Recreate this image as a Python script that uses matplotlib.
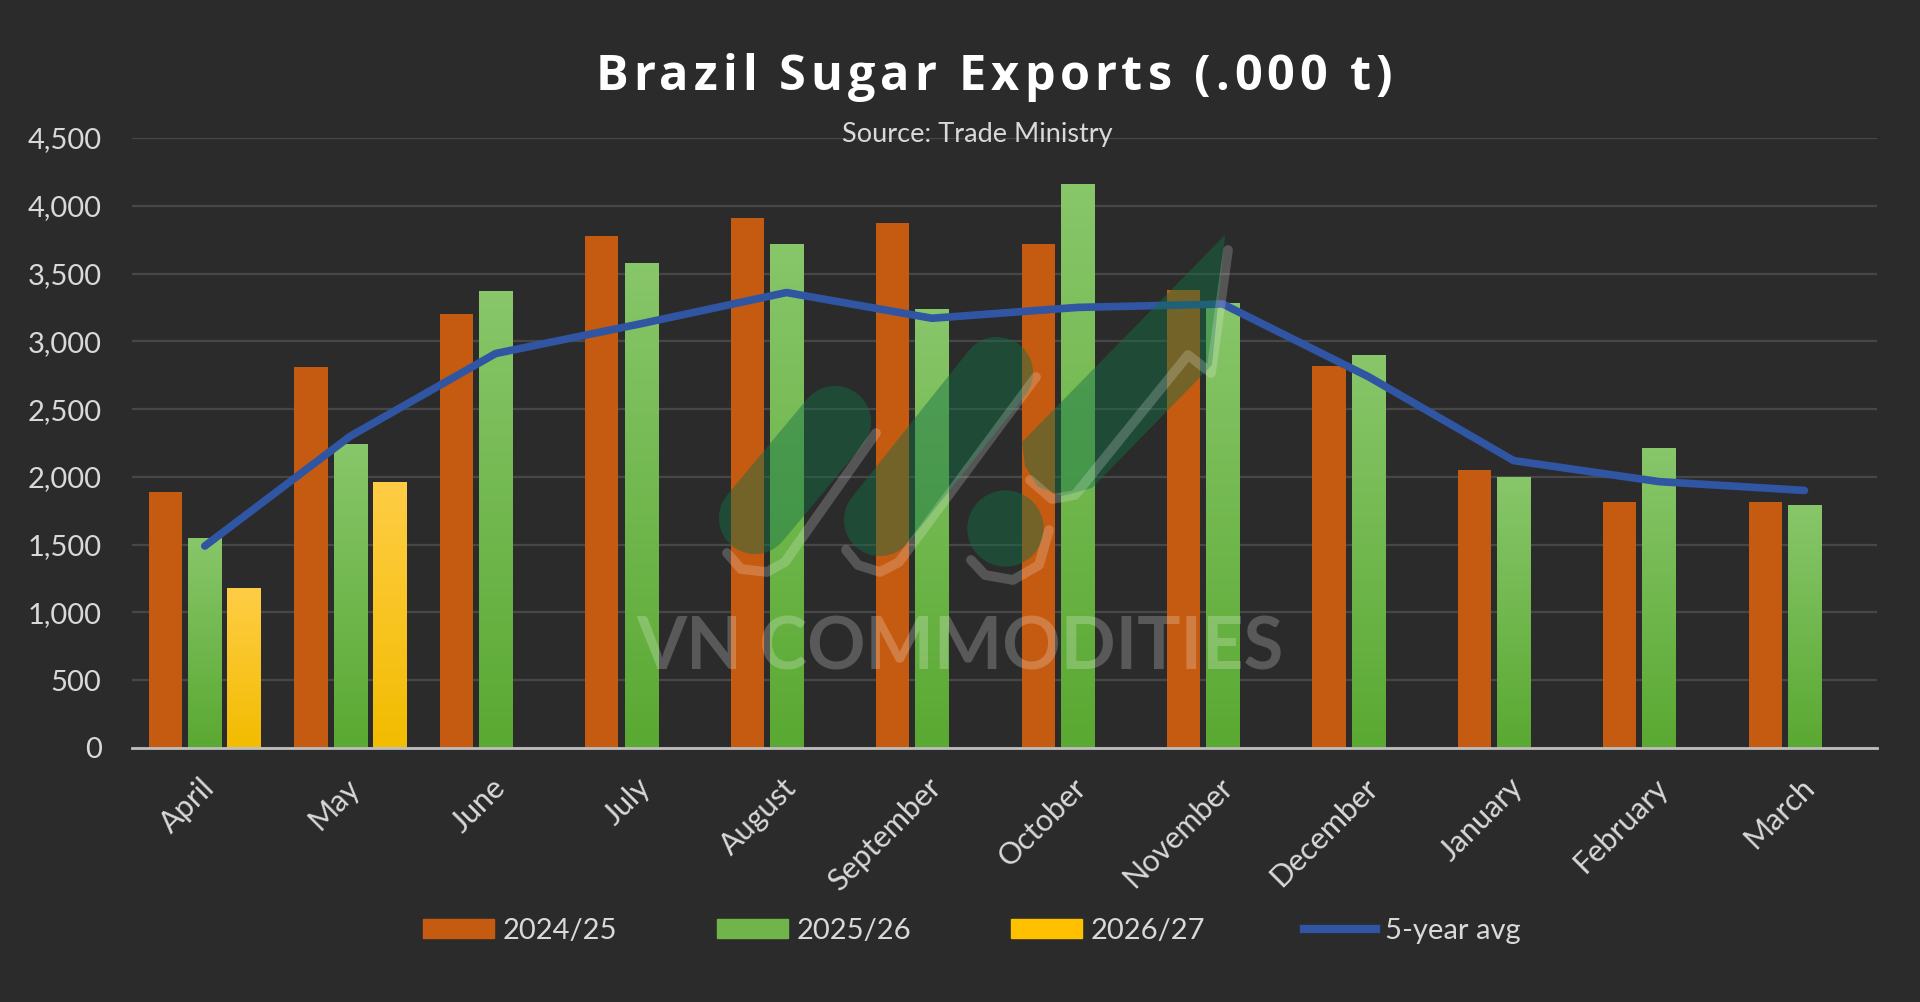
#Brazil sugar exports by month, three seasons plus the 5-year average

import matplotlib.pyplot as plt
import numpy as np
from matplotlib.colors import LinearSegmentedColormap
from matplotlib.patches import Patch, Polygon
from matplotlib.lines import Line2D
from matplotlib.ticker import FuncFormatter
from matplotlib.transforms import ScaledTranslation
from matplotlib.font_manager import FontProperties

months = ["April", "May", "June", "July", "August", "September",
          "October", "November", "December", "January", "February", "March"]
exp_2425 = [1890, 2810, 3200, 3780, 3910, 3870, 3720, 3380, 2820, 2050, 1815, 1815]
exp_2526 = [1550, 2240, 3370, 3580, 3720, 3240, 4160, 3280, 2900, 2000, 2210, 1790]
exp_2627 = [1180, 1965]
avg_5yr = [1490, 2300, 2910, 3130, 3360, 3170, 3250, 3275, 2740, 2120, 1965, 1900]
season_labels = ["2024/25", "2025/26", "2026/27", "5-year avg"]
title = "Brazil Sugar Exports (.000 t)"

bg = "#2b2b2b"
txt = "#d9d9d9"
W, H = 1920, 1002
plt.rcParams['font.family'] = ['Lato', 'DejaVu Sans']

fig = plt.figure(figsize=(W / 100, H / 100), dpi=100, facecolor=bg)
ax = fig.add_axes([0.0688, 0.2535, 0.9089, 0.6088], facecolor=bg)

x = np.arange(len(months))
w = 0.228
step = 0.27

b1 = ax.bar(x - step, exp_2425, w, color="#c55a11", zorder=2)
b2 = ax.bar(x, exp_2526, w, color="#70b54b", zorder=2)
b3 = ax.bar(x[:len(exp_2627)] + step, exp_2627, w, color="#ffc000", zorder=2)

# vertical gradient fill like the excel bars
def shade(bars, top, bottom):
    cmap = LinearSegmentedColormap.from_list("g", [bottom, top])
    grad = np.linspace(0, 1, 100).reshape(-1, 1)
    for b in bars:
        bx, by = b.get_x(), b.get_y()
        im = ax.imshow(grad, extent=[bx, bx + b.get_width(), by, by + b.get_height()],
                       origin="lower", aspect="auto", cmap=cmap, zorder=2.1)
        im.set_clip_path(b)

shade(b2, "#88c66a", "#5aa932")
shade(b3, "#ffcd45", "#f2bc00")

ax.plot(x, avg_5yr, color="#2f55a3", lw=5.5, solid_capstyle="round",
        solid_joinstyle="round", zorder=4)

ax.set_xlim(-0.5, len(months) - 0.5)
ax.set_ylim(0, 4500)
ax.set_yticks(np.arange(0, 4501, 500))
ax.yaxis.set_major_formatter(FuncFormatter(lambda v, p: f"{int(v):,}"))
ax.grid(axis="y", color="#474747", lw=1.6, zorder=0)
ax.set_axisbelow(True)
for s in ["top", "right", "left"]:
    ax.spines[s].set_visible(False)
ax.spines["bottom"].set_color("#bfbfbf")
ax.spines["bottom"].set_linewidth(2)
ax.spines["bottom"].set_zorder(3)
ax.tick_params(axis="y", length=0, labelsize=21, labelcolor=txt, pad=22)
ax.tick_params(axis="x", length=0, labelsize=22, labelcolor=txt, pad=18)
ax.set_xticks(x)
ax.set_xticklabels(months, rotation=45, ha="right", rotation_mode="anchor")
for lab in ax.get_xticklabels():
    lab.set_transform(lab.get_transform() + ScaledTranslation(-0.05, 0, fig.dpi_scale_trans))

# watermark logo, positions in picture pixels
def px(x0, y0):
    return (x0 / W, 1 - y0 / H)

logo_green = "#127045"
for a, b in [((755, 518), (835, 422)), ((880, 520), (997, 373))]:
    fig.add_artist(Line2D([a[0] / W, b[0] / W], [1 - a[1] / H, 1 - b[1] / H], lw=52,
                          color=logo_green, alpha=0.45, solid_capstyle="round", zorder=5))
fig.add_artist(Line2D([1005 / W], [1 - 528 / H], marker="o", ms=55, mew=0,
                      color=logo_green, alpha=0.45, zorder=5))
fig.add_artist(Polygon([px(1022, 442), px(1225, 235), px(1212, 365), px(1092, 488),
                        px(1062, 496), px(1038, 487), px(1025, 466)], closed=True,
                       color=logo_green, alpha=0.45, lw=0, zorder=5))
for pts in [[(876, 433), (785, 562), (767, 572), (741, 569), (727, 553)],
            [(1036, 377), (899, 562), (880, 572), (858, 565), (846, 550)],
            [(1049, 530), (1039, 565), (1013, 580), (985, 575), (971, 560)],
            [(1030, 480), (1052, 499), (1075, 495), (1188, 355), (1211, 373), (1228, 250)]]:
    xs = [p[0] / W for p in pts]
    ys = [1 - p[1] / H for p in pts]
    fig.add_artist(Line2D(xs, ys, lw=7, color="white", alpha=0.2,
                          solid_capstyle="round", solid_joinstyle="round", zorder=5))

ax.text(0.4745, 0.162, "VN COMMODITIES", transform=ax.transAxes, ha="center", va="center",
        fontsize=52, fontweight="bold", color="white", alpha=0.22, zorder=6)

# title with letter spacing, one glyph at a time
tprop = FontProperties(family=["Open Sans", "DejaVu Sans"], weight="bold", size=35)
rend = fig.canvas.get_renderer()
def tw(s):
    return rend.get_text_width_height_descent(s, tprop, ismath=False)[0]
track = 4.9
x0 = 994 - (tw(title) + track * (len(title) - 1)) / 2
for i, ch in enumerate(title):
    if ch == " ":
        continue
    xi = x0 + tw(title[:i + 1]) - tw(ch) + track * i
    fig.text(xi / W, 1 - 90 / H, ch, fontproperties=tprop, ha="left", va="baseline",
             color="white")

fig.text(0.509, 0.866, "Source: Trade Ministry", ha="center", va="center",
         fontsize=19.5, color=txt)

handles = [Patch(color="#c55a11"), Patch(color="#70b54b"), Patch(color="#ffc000"),
           Line2D([0], [0], color="#2f55a3", lw=6)]
fig.legend(handles, season_labels, loc="center", bbox_to_anchor=(0.506, 0.071), ncol=4,
           frameon=False, fontsize=21, labelcolor=txt, handlelength=2.45, handleheight=0.6,
           handletextpad=0.3, columnspacing=3.4)

plt.savefig("out.png", dpi=100, facecolor=bg)
